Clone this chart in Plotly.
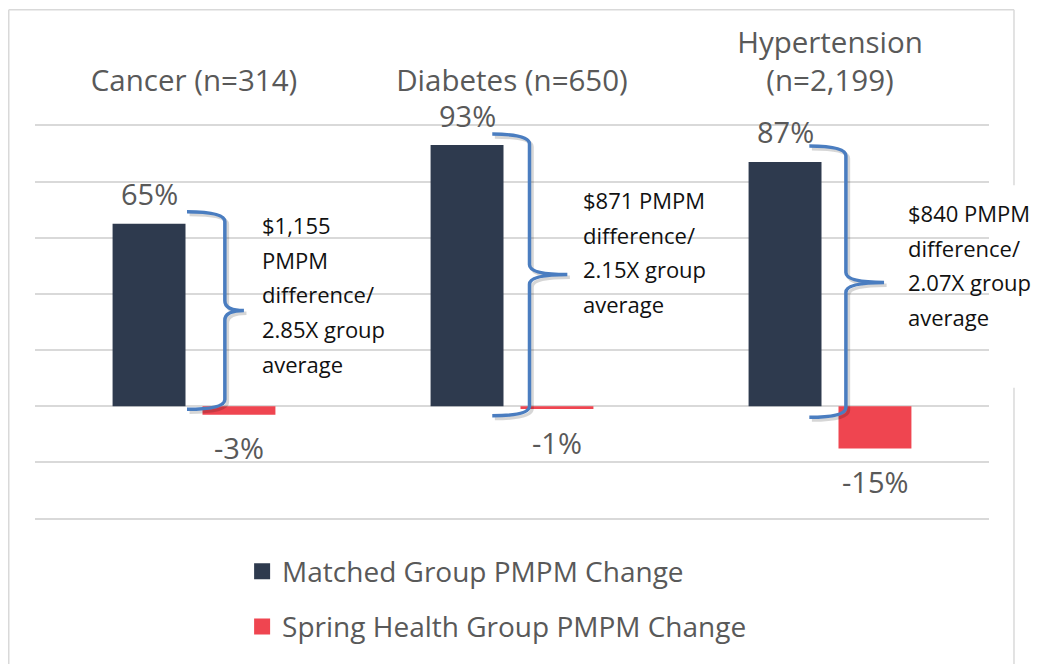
import plotly.graph_objects as go

# ---------------- data ----------------
category_labels = ["Cancer (n=314)", "Diabetes (n=650)", "Hypertension<br>(n=2,199)"]
matched_change = [65, 93, 87]          # Matched Group PMPM Change (%)
spring_change = [-3, -1, -15]          # Spring Health Group PMPM Change (%)
series_names = ["Matched Group PMPM Change", "Spring Health Group PMPM Change"]
note_lines = [
    ["$1,155", "PMPM", "difference/", "2.85X group", "average"],
    ["$871 PMPM", "difference/", "2.15X group", "average"],
    ["$840 PMPM", "difference/", "2.07X group", "average"],
]

# ---------------- style ----------------
DARK = "#2E3A4E"
RED = "#EF4550"
BLUE = "#4A7DC0"
GRID = "#D9D9D9"
GRAY_TXT = "#595959"
FONT = "Open Sans"
BARGAP = 0.4345
GROUPGAP = 0.189

# brace geometry (axis units, relative to category): left arm x, spine x, tip x, top y, bottom y, mid y
braces = [
    dict(xl=-0.022, xs=0.097, xt=0.157, yt=69.3, yb=-1.1, ym=34.1),
    dict(xl=-0.062, xs=0.055, xt=0.174, yt=96.9, yb=-3.4, ym=46.9),
    dict(xl=-0.065, xs=0.050, xt=0.170, yt=92.7, yb=-3.9, ym=44.1),
]
# note placement (axis units): x offset from category, y of first line
note_pos = [dict(dx=0.209, y=64.6), dict(dx=0.218, y=73.5), dict(dx=0.240, y=68.8)]
NOTE_LINE_PX = 34.7

x_pos = list(range(len(category_labels)))

fig = go.Figure()
fig.add_trace(go.Bar(x=x_pos, y=matched_change, name=series_names[0],
                     marker=dict(color=DARK, line=dict(width=0)), showlegend=False))
fig.add_trace(go.Bar(x=x_pos, y=spring_change, name=series_names[1],
                     marker=dict(color=RED, line=dict(width=0)), showlegend=False))
# legend entries (bigger square swatches)
for nm, col, grp in [(series_names[0], DARK, "a"), (series_names[1], RED, "b")]:
    fig.add_trace(go.Scatter(x=[None], y=[None], mode="markers", name=nm,
                             legendgroup=grp,
                             marker=dict(symbol="square", size=20, color=col)))

annotations = []
slot = (1 - BARGAP) / 2
for i, (m, s) in enumerate(zip(matched_change, spring_change)):
    for val, off in [(m, -slot / 2), (s, slot / 2)]:
        annotations.append(dict(
            x=i + off, y=val, xref="x", yref="y", text=f"{val}%",
            showarrow=False, xanchor="center", yanchor="middle",
            yshift=30 if val >= 0 else -33,
            font=dict(family=FONT, size=29, color=GRAY_TXT)))

for i, lines in enumerate(note_lines):
    p = note_pos[i]
    for k, t in enumerate(lines):
        annotations.append(dict(
            x=i + p["dx"], y=p["y"], xref="x", yref="y", text=t,
            showarrow=False, xanchor="left", yanchor="middle",
            yshift=-k * NOTE_LINE_PX,
            font=dict(family=FONT, size=22, color="#111111")))

# braces
def brace_path(i, b, dx=0.0, dy=0.0):
    xl, xs, xt = i + b["xl"] + dx, i + b["xs"] + dx, i + b["xt"] + dx
    yt, yb, ym = b["yt"] + dy, b["yb"] + dy, b["ym"] + dy
    r = 3.5
    return (f"M{xl},{yt} Q{xs},{yt} {xs},{yt - r} "
            f"L{xs},{ym + r} Q{xs},{ym} {xt},{ym} "
            f"Q{xs},{ym} {xs},{ym - r} "
            f"L{xs},{yb + r} Q{xs},{yb} {xl},{yb}")

shapes = []
for i, b in enumerate(braces):
    shapes.append(dict(type="path", xref="x", yref="y", path=brace_path(i, b, 0.008, -1.0),
                       line=dict(color="rgba(0,0,0,0.16)", width=3.5), layer="above"))
for i, b in enumerate(braces):
    shapes.append(dict(type="path", xref="x", yref="y", path=brace_path(i, b),
                       line=dict(color=BLUE, width=3.5), layer="above"))

# outer chart frame (paper units)
fx0, fx1, fy0, fy1 = -0.0275, 1.0262, -0.45, 1.2888
frame_line = dict(color=GRID, width=1.5)
for seg in [(fx0, fy0, fx0, fy1), (fx0, fy1, fx1, fy1),
            (fx1, fy1, fx1, 0.8453), (fx1, 0.3337, fx1, fy0)]:
    shapes.append(dict(type="line", xref="paper", yref="paper",
                       x0=seg[0], y0=seg[1], x1=seg[2], y1=seg[3], line=frame_line))

fig.update_layout(
    width=1036, height=656,
    margin=dict(l=27, r=55, t=115.6, b=143.6),
    paper_bgcolor="white", plot_bgcolor="white",
    barmode="group", bargap=BARGAP, bargroupgap=GROUPGAP,
    font=dict(family=FONT, color=GRAY_TXT),
    xaxis=dict(range=[-0.5, 2.5], side="top", tickvals=x_pos, ticktext=category_labels,
               showgrid=False, zeroline=False, ticks="", showline=False,
               tickfont=dict(family=FONT, size=29.5, color=GRAY_TXT),
               ticklabelstandoff=26, automargin=False, fixedrange=True),
    yaxis=dict(range=[-40.5, 100.5], dtick=20, showgrid=True, gridcolor=GRID, gridwidth=1.5,
               zeroline=True, zerolinecolor=GRID, zerolinewidth=1.5,
               showticklabels=False, ticks="", showline=False, automargin=False,
               fixedrange=True),
    legend=dict(orientation="v", x=0.2171, y=-0.0668, xanchor="left", yanchor="top",
                font=dict(family=FONT, size=28, color=GRAY_TXT),
                tracegroupgap=16, bgcolor="rgba(0,0,0,0)"),
    annotations=annotations,
    shapes=shapes,
)

fig.write_html("out.html")
